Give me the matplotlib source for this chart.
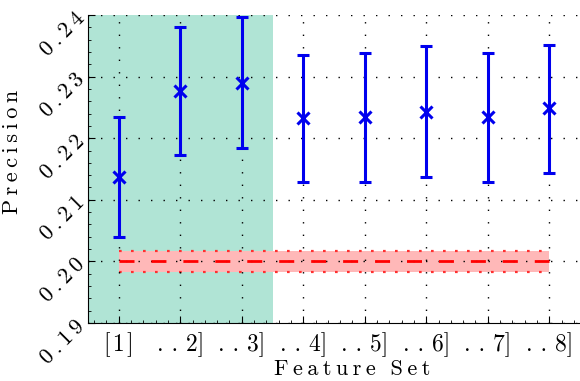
import numpy as np
import matplotlib.pyplot as plt
from matplotlib.ticker import AutoMinorLocator

plt.rcParams['font.family'] = ['cmr10', 'DejaVu Serif']
plt.rcParams['axes.formatter.use_mathtext'] = True

# feature sets and precision (mean, lower, upper)
feature_sets = [1, 2, 3, 4, 5, 6, 7, 8]
tick_labels = ['[1]', '. . 2]', '. . 3]', '. . 4]', '. . 5]', '. . 6]', '. . 7]', '. . 8]']
precision = [0.2137, 0.2276, 0.2289, 0.2232, 0.2234, 0.2242, 0.2234, 0.2249]
lower = [0.2040, 0.2172, 0.2184, 0.2129, 0.2129, 0.2137, 0.2129, 0.2144]
upper = [0.2234, 0.2381, 0.2396, 0.2335, 0.2338, 0.2349, 0.2339, 0.2352]

baseline = 0.200
baseline_lo = 0.1983
baseline_hi = 0.2017

y_ticks = [0.19, 0.20, 0.21, 0.22, 0.23, 0.24]
sp = '\u2009'
hair = '\u200a'
y_tick_labels = [sp.join(f'{v:.2f}') for v in y_ticks]
x_tick_labels = list(tick_labels)
x_tick_labels[0] = hair.join(tick_labels[0])

fig = plt.figure(figsize=(5.8, 3.81), dpi=100)
ax = fig.add_axes([88 / 580, 1 - 323 / 381, 492 / 580, 308 / 381])

# highlighted region over the first three sets
ax.axvspan(0.5, 3.5, color='#b0e4d5', zorder=0, lw=0)

# baseline band
xb = [feature_sets[0], feature_sets[-1]]
ax.fill_between(xb, baseline_lo, baseline_hi, color='#ffb8b8', lw=0, zorder=1)
ax.plot(xb, [baseline_lo] * 2, color='#ff3030', lw=1.6, ls=(0, (1.2, 4.2)), zorder=2)
ax.plot(xb, [baseline_hi] * 2, color='#ff3030', lw=1.6, ls=(0, (1.2, 4.2)), zorder=2)
ax.plot(xb, [baseline] * 2, color='red', lw=2, ls=(0, (5.4, 6.1)), zorder=3)

mean = np.array(precision)
yerr = [mean - np.array(lower), np.array(upper) - mean]
ax.errorbar(feature_sets, mean, yerr=yerr, fmt='x', color='#0000ee', ms=9, mew=2.2,
            elinewidth=2.2, capsize=4, capthick=2.2, zorder=4)

ax.set_xlim(0.5, 8.5)
ax.set_ylim(0.19, 0.24)
ax.set_xticks(feature_sets)
ax.set_xticklabels(x_tick_labels, fontsize=17)
ax.set_yticks(y_ticks)
ax.set_yticklabels(y_tick_labels, fontsize=16, rotation=45, ha='right', va='center',
                   rotation_mode='anchor')
ax.xaxis.set_minor_locator(AutoMinorLocator(5))
ax.yaxis.set_minor_locator(AutoMinorLocator(5))
ax.tick_params(which='both', direction='in', top=False, right=False)
ax.tick_params(which='major', length=5)
ax.tick_params(which='minor', length=2.5)
ax.tick_params(axis='y', pad=5)
ax.tick_params(axis='x', pad=7)

ax.grid(True, which='major', color='black', ls=(0, (1, 8)), lw=1)
ax.set_axisbelow(False)
ax.spines['top'].set_visible(False)
ax.spines['right'].set_visible(False)

ax.set_xlabel(sp.join('Feature') + '  ' + sp.join('Set'), fontsize=16)
ax.xaxis.set_label_coords((352 - 88) / 492, (323 - 359) / 308)
ax.set_ylabel(sp.join('Precision'), fontsize=16)
ax.yaxis.set_label_coords((22 - 88) / 492, (323 - 152) / 308)

fig.savefig('out.png', dpi=100)
